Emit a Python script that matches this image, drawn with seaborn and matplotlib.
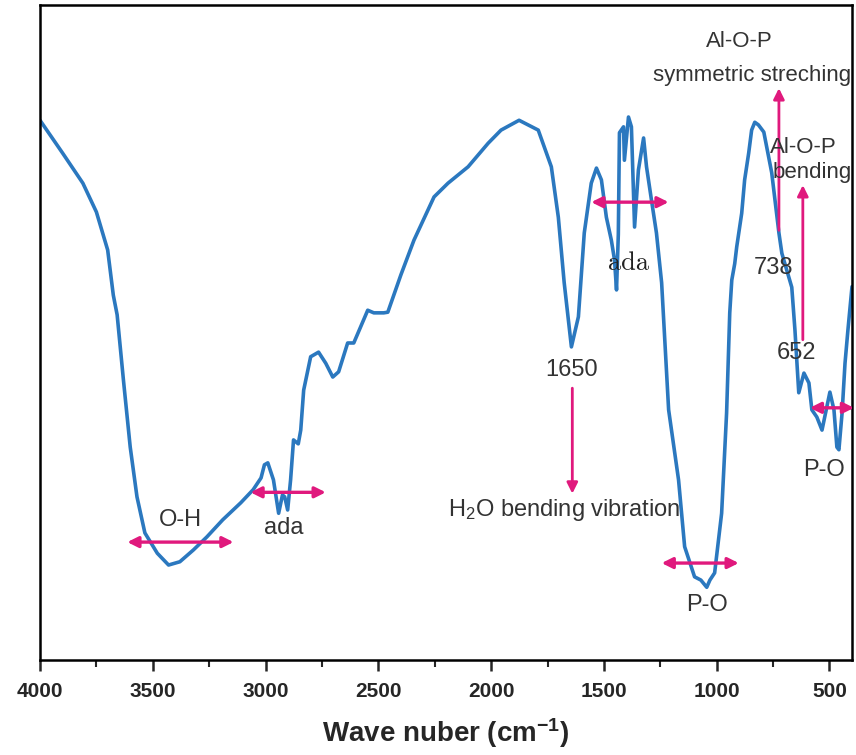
from matplotlib import pyplot as plt
import numpy as np
import seaborn as sns
import pandas as pd

# FTIR spectrum (wavenumber in cm-1, transmittance in a.u.)
wavenumber = [4000, 3900, 3810, 3750, 3700, 3675, 3658, 3630, 3600, 3570,
              3535, 3480, 3430, 3380, 3320, 3260, 3190, 3110, 3055, 3020,
              3005, 2990, 2965, 2942, 2925, 2915, 2902, 2889, 2876, 2855,
              2844, 2831, 2800, 2765, 2733, 2702, 2676, 2636, 2609, 2547,
              2520, 2476, 2458, 2400, 2342, 2253, 2191, 2102, 2013, 1956,
              1876, 1791, 1733, 1702, 1676, 1644, 1613, 1587, 1556, 1533,
              1511, 1489, 1467, 1453, 1444, 1436, 1431, 1413, 1409, 1391,
              1378, 1364, 1347, 1324, 1311, 1289, 1267, 1244, 1213, 1169,
              1142, 1098, 1070, 1044, 1030, 1009, 978, 956, 942, 933,
              920, 911, 889, 876, 858, 845, 831, 815, 791, 756,
              724, 711, 667, 653, 644, 636, 613, 591, 578, 556,
              533, 498, 480, 467, 458, 444, 431, 418, 400]
transmittance = [82.4, 77.4, 72.8, 68.4, 62.6, 55.7, 52.7, 42.7, 32.5, 24.9,
                 19.4, 16.3, 14.5, 15.0, 16.8, 18.8, 21.4, 24.0, 26.0, 27.8,
                 29.8, 30.1, 27.5, 22.4, 25.2, 24.9, 22.9, 27.5, 33.6, 33.0,
                 35.1, 41.2, 46.3, 47.0, 45.3, 43.2, 44.0, 48.4, 48.4, 53.4,
                 53.0, 53.0, 53.1, 58.8, 64.1, 70.7, 72.8, 75.3, 78.9, 80.9,
                 82.4, 80.9, 75.3, 67.6, 57.6, 47.8, 52.4, 65.2, 72.8, 75.1,
                 73.3, 67.6, 64.1, 61.1, 56.5, 65.0, 80.5, 81.4, 76.3, 82.9,
                 81.4, 66.1, 74.8, 79.7, 75.3, 70.2, 65.2, 57.6, 38.2, 27.5,
                 17.3, 12.7, 12.2, 11.1, 12.2, 13.3, 22.4, 37.7, 53.0, 58.0,
                 60.5, 63.1, 68.2, 73.3, 77.4, 80.9, 82.1, 81.7, 80.6, 74.4,
                 65.2, 62.1, 56.9, 50.4, 45.3, 40.8, 43.8, 42.3, 38.2, 37.1,
                 35.1, 40.9, 38.2, 32.5, 32.1, 37.7, 45.3, 50.4, 57.0]

x_ticks = [4000, 3500, 3000, 2500, 2000, 1500, 1000, 500]
x_minor = [3750, 3250, 2750, 2250, 1750, 1250, 750]

df = pd.DataFrame({"wavenumber": wavenumber, "T": transmittance})

sns.set_style("white")
plt.rcParams["font.family"] = ["Liberation Sans", "DejaVu Sans"]
plt.rcParams["mathtext.default"] = "regular"

line_color = "#2b78bf"
mark_color = "#e0197d"
text_color = "#333333"

fig = plt.figure(figsize=(8.56, 7.55), dpi=100)
ax = fig.add_axes([40 / 856, 95 / 755, 812 / 856, 655 / 755])

sns.lineplot(data=df, x="wavenumber", y="T", sort=False, color=line_color,
             linewidth=2.6, ax=ax)

ax.set_xlim(4000, 400)
ax.set_ylim(0, 100)
ax.set_yticks([])
ax.set_ylabel("")
ax.set_xticks(x_ticks)
ax.set_xticks(x_minor, minor=True)
ax.tick_params(axis="x", which="major", direction="out", length=8, width=1.8,
               labelsize=15, pad=8, bottom=True)
ax.tick_params(axis="x", which="minor", direction="out", length=5, width=1.5,
               bottom=True)
for lab in ax.get_xticklabels():
    lab.set_fontweight("bold")
for sp in ax.spines.values():
    sp.set_visible(True)
    sp.set_color("black")
    sp.set_linewidth(1.8)
ax.set_xlabel("Wave nuber (cm$^{-1}$)", fontsize=20, fontweight="bold", labelpad=11)


def double_arrow(x1, x2, y):
    ax.annotate("", xy=(x1, y), xytext=(x2, y), annotation_clip=False,
                arrowprops=dict(arrowstyle="<|-|>", color=mark_color, lw=2.4,
                                mutation_scale=16, shrinkA=0, shrinkB=0))


def up_arrow(x, y0, y1):
    ax.annotate("", xy=(x, y1), xytext=(x, y0),
                arrowprops=dict(arrowstyle="-|>", color=mark_color, lw=2.0,
                                mutation_scale=16, shrinkA=0, shrinkB=0))


def label(x, y, s, size=17, **kw):
    kw.setdefault("ha", "center")
    ax.text(x, y, s, va="center", fontsize=size, color=text_color, **kw)


# O-H
double_arrow(3613, 3142, 18.0)
label(3378, 21.4, "O-H")
# ada (C-H)
double_arrow(3067, 2733, 25.6)
label(2920, 20.2, "ada")
# 1650 H2O bending
label(1644, 44.3, "1650")
up_arrow(1640, 41.5, 25.4)
label(1676, 22.9, "H$_2$O bending vibration")
# ada 1400 region
ax.text(1391, 60.6, "ada", va="center", ha="center", fontsize=19,
        color="#222222", family="cmr10")
double_arrow(1556, 1213, 69.9)
# P-O broad band
double_arrow(1244, 902, 14.8)
label(1044, 8.4, "P-O")
# Al-O-P symmetric stretching
label(898, 94.4, "Al-O-P", size=16)
label(1282, 89.3, "symmetric streching", size=16, ha="left", clip_on=True)
up_arrow(724, 65.6, 87.3)
label(747, 59.8, "738")
# Al-O-P bending
label(764, 78.2, "Al-O-P", size=16, ha="left", clip_on=True)
label(751, 74.4, "bending", size=16, ha="left", clip_on=True)
up_arrow(618, 48.9, 72.5)
label(644, 46.9, "652")
# P-O low wavenumber
ax.annotate("", xy=(587, 38.5), xytext=(391, 38.5),
            arrowprops=dict(arrowstyle="<|-|>", color=mark_color, lw=2.4,
                            mutation_scale=16, shrinkA=0, shrinkB=0))
label(524, 29.0, "P-O")

plt.savefig("out.png", dpi=100)
